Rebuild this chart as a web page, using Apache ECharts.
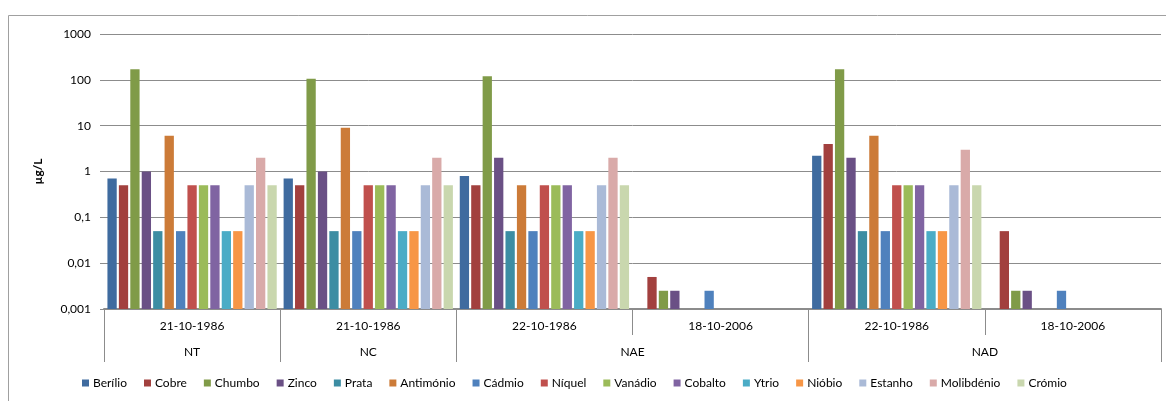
<!DOCTYPE html>
<html><head><meta charset="utf-8">
<script src="https://cdn.jsdelivr.net/npm/echarts@6/dist/echarts.min.js"></script>
<style>html,body{margin:0;padding:0;background:#fff}#c{width:1166px;height:401px}</style>
</head><body><div id="c"></div>
<script>
// ---- data ----
const dateLabels = ['21-10-1986', '21-10-1986', '22-10-1986', '18-10-2006', '22-10-1986', '18-10-2006'];
const sites = ['NT', 'NC', 'NAE', 'NAD'];
const siteSpans = [1, 1, 2, 2];
const yTickValues = [0.001, 0.01, 0.1, 1, 10, 100, 1000];
const elements = ['Berílio', 'Cobre', 'Chumbo', 'Zinco', 'Prata', 'Antimónio', 'Cádmio', 'Níquel', 'Vanádio', 'Cobalto', 'Ytrio', 'Nióbio', 'Estanho', 'Molibdénio', 'Crómio'];

const berilio   = [0.7, 0.7, 0.8, null, 2.2, null];
const cobre     = [0.5, 0.5, 0.5, 0.005, 4, 0.05];
const chumbo    = [170, 105, 120, 0.0025, 170, 0.0025];
const zinco     = [1, 1, 2, 0.0025, 2, 0.0025];
const prata     = [0.05, 0.05, 0.05, null, 0.05, null];
const antimonio = [6, 9, 0.5, null, 6, null];
const cadmio    = [0.05, 0.05, 0.05, 0.0025, 0.05, 0.0025];
const niquel    = [0.5, 0.5, 0.5, null, 0.5, null];
const vanadio   = [0.5, 0.5, 0.5, null, 0.5, null];
const cobalto   = [0.5, 0.5, 0.5, null, 0.5, null];
const ytrio     = [0.05, 0.05, 0.05, null, 0.05, null];
const niobio    = [0.05, 0.05, 0.05, null, 0.05, null];
const estanho   = [0.5, 0.5, 0.5, null, 0.5, null];
const molibdenio = [2, 2, 2, null, 3, null];
const cromio    = [0.5, 0.5, 0.5, null, 0.5, null];

const seriesValues = [berilio, cobre, chumbo, zinco, prata, antimonio, cadmio, niquel, vanadio, cobalto, ytrio, niobio, estanho, molibdenio, cromio];

// ---- styles ----
const colors = ['#3F6B9F', '#A2403E', '#809B48', '#6A5085', '#3C8DA3', '#CC7B38', '#4F81BD', '#C0504D', '#9BBB59', '#8064A2', '#4BACC6', '#F79646', '#AABAD7', '#D9AAA9', '#C9D7AE'];
const FONT = 'Lato, "Open Sans", sans-serif';
const AXIS_GRAY = '#8c8c8c';

const catKeys = dateLabels.map((d, i) => i + '|' + d);

// site axis positions (in category units)
const siteBounds = [0];
siteSpans.forEach(s => siteBounds.push(siteBounds[siteBounds.length - 1] + s));
const siteCenters = sites.map((s, i) => (siteBounds[i] + siteBounds[i + 1]) / 2);

function fmtLog(v) {
  const r = +Number(v).toPrecision(4);
  return String(r).replace('.', ',');
}

const chart = echarts.init(document.getElementById('c'), null, { renderer: 'canvas' });
chart.setOption({
  animation: false,
  color: colors,
  textStyle: { fontFamily: FONT },
  graphic: [{
    type: 'rect', silent: true,
    shape: { x: 8.5, y: 15.5, width: 1400, height: 600 },
    style: { fill: 'none', stroke: '#a0a0a0', lineWidth: 1 }
  }],
  grid: { left: 104, right: 5, top: 34, bottom: 92, containLabel: false },
  legend: {
    top: 377, left: 82, padding: 0,
    itemWidth: 7, itemHeight: 7, itemGap: 17, icon: 'rect',
    textStyle: { fontSize: 12, color: '#000', fontFamily: FONT, padding: [0, 0, 0, -1] },
    data: elements
  },
  xAxis: [{
    type: 'category',
    data: catKeys,
    axisLine: { lineStyle: { color: AXIS_GRAY, width: 2 } },
    axisTick: { show: true, interval: 0, length: 26, lineStyle: { color: AXIS_GRAY, width: 1 } },
    axisLabel: { interval: 0, margin: 11, fontSize: 12, color: '#000', fontFamily: FONT,
      formatter: v => v.split('|')[1] },
    splitLine: { show: false }
  }, {
    type: 'value', position: 'bottom', offset: 26,
    min: 0, max: dateLabels.length,
    axisLine: { show: false },
    splitLine: { show: false },
    axisTick: { show: true, length: 27, customValues: siteBounds, lineStyle: { color: AXIS_GRAY, width: 1 } },
    axisLabel: { show: true, margin: 11, fontSize: 12, color: '#000', fontFamily: FONT,
      customValues: siteCenters,
      formatter: v => { const i = siteCenters.findIndex(c => Math.abs(c - v) < 1e-6); return i >= 0 ? sites[i] : ''; } }
  }],
  yAxis: {
    type: 'log', logBase: 10, min: yTickValues[0], max: yTickValues[yTickValues.length - 1],
    splitNumber: yTickValues.length - 1,
    startValue: yTickValues[0],
    name: 'µg/L', nameLocation: 'middle', nameRotate: 90, nameGap: 60,
    nameTextStyle: { fontWeight: 'bold', fontSize: 12, color: '#000', fontFamily: FONT },
    axisLine: { show: false },
    axisTick: { show: true, length: 4, lineStyle: { color: AXIS_GRAY } },
    axisLabel: { margin: 13, fontSize: 12, color: '#000', fontFamily: FONT, formatter: fmtLog },
    splitLine: { show: true, lineStyle: { color: AXIS_GRAY, width: 1 } }
  },
  series: elements.map((name, i) => ({
    name, type: 'bar', xAxisIndex: 0,
    data: seriesValues[i],
    barGap: '23%', barCategoryGap: '3.9%',
    itemStyle: { color: colors[i] }
  }))
});
</script>
</body></html>
